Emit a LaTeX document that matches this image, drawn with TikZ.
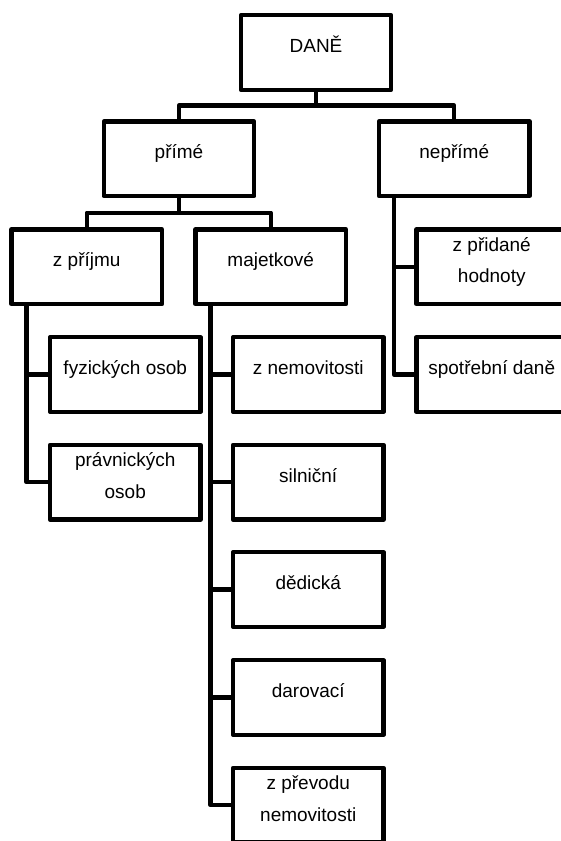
\documentclass[tikz,border=0pt]{standalone}
\usepackage{fontspec}
\setmainfont{Liberation Sans}
\begin{document}
\begin{tikzpicture}[x=1pt,y=-1pt,
  box/.style={draw, line width=4.3pt, rectangle, minimum width=150.5pt, minimum height=74.5pt, inner sep=0pt, outer sep=0pt, line join=round},
  lbl/.style={font=\fontsize{19}{23}\selectfont, anchor=base, inner sep=0pt},
  conn/.style={line width=4.3pt, line join=round}]
\useasboundingbox (0,0) rectangle (561,841);
\clip (0,0) rectangle (561,841);
% boxes
\node[box] (dane) at (316,52.5) {};
\node[box] (prime) at (179,158.75) {};
\node[box] (neprime) at (454.25,158.75) {};
\node[box] (zprijmu) at (86.75,266.75) {};
\node[box] (majetkove) at (270.75,266.75) {};
\node[box] (zpridane) at (491.75,266.75) {};
\node[box] (fyzicke) at (125.25,374.5) {};
\node[box] (znemovitosti) at (308.25,374.5) {};
\node[box] (spotrebni) at (491.75,374.5) {};
\node[box] (pravnicke) at (125.25,482.25) {};
\node[box] (silnicni) at (308.25,482.25) {};
\node[box] (dedicka) at (308.25,589.5) {};
\node[box] (darovaci) at (308.25,697.5) {};
\node[box] (zprevodu) at (308.25,805.25) {};
% labels
\node[lbl] at (dane.center) {DANĚ};
\node[lbl] at (prime.center) {přímé};
\node[lbl] at (neprime.center) {nepřímé};
\node[lbl] at (zprijmu.center) {z příjmu};
\node[lbl] at (majetkove.center) {majetkové};
\node[lbl] at ([yshift=15.5pt]zpridane.center) {z přidané};
\node[lbl] at ([yshift=-16pt]zpridane.center) {hodnoty};
\node[lbl] at (fyzicke.center) {fyzických osob};
\node[lbl] at (znemovitosti.center) {z nemovitosti};
\node[lbl] at (spotrebni.center) {spotřební daně};
\node[lbl] at ([yshift=15.5pt]pravnicke.center) {právnických};
\node[lbl] at ([yshift=-16pt]pravnicke.center) {osob};
\node[lbl] at (silnicni.center) {silniční};
\node[lbl] at (dedicka.center) {dědická};
\node[lbl] at (darovaci.center) {darovací};
\node[lbl] at ([yshift=15.5pt]zprevodu.center) {z převodu};
\node[lbl] at ([yshift=-16pt]zprevodu.center) {nemovitosti};
% bus coordinates and trunks
\coordinate (b1) at (316,105.5);
\coordinate (b2) at (179,212.7);
\coordinate (t1) at (26.5,304);
\coordinate (t2) at (210.5,304);
\coordinate (t3) at (394,196);
% connectors
\draw[conn] (dane.south) -- (b1);
\draw[conn] (prime.north) |- (b1) -| (neprime.north);
\draw[conn] (prime.south) -- (b2);
\draw[conn] (zprijmu.north) |- (b2) -| (majetkove.north);
\draw[conn] (t1) |- (pravnicke.west);
\draw[conn] (fyzicke.west) -- (fyzicke.west -| t1);
\draw[conn] (t2) |- (zprevodu.west);
\draw[conn] (znemovitosti.west) -- (znemovitosti.west -| t2);
\draw[conn] (silnicni.west) -- (silnicni.west -| t2);
\draw[conn] (dedicka.west) -- (dedicka.west -| t2);
\draw[conn] (darovaci.west) -- (darovaci.west -| t2);
\draw[conn] (t3) |- (spotrebni.west);
\draw[conn] (zpridane.west) -- (zpridane.west -| t3);
\end{tikzpicture}
\end{document}
